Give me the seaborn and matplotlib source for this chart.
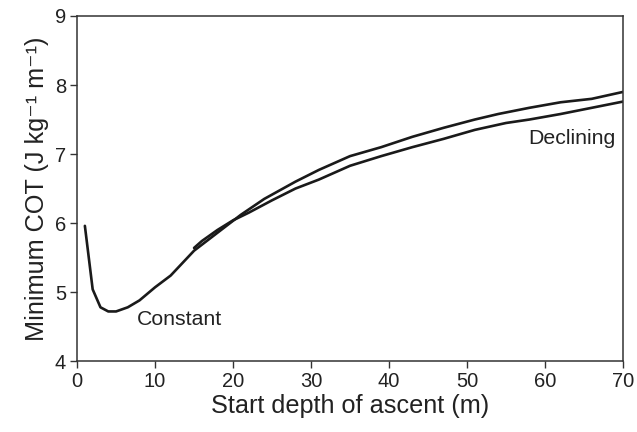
import numpy as np
import pandas as pd
import seaborn as sns
import matplotlib
matplotlib.use("Agg")
import matplotlib.pyplot as plt

# Data
const_x = [1, 2, 3, 4, 5, 6.5, 8, 10, 12, 15, 18, 21, 24, 28, 31, 35, 39, 43, 47, 51, 54, 58, 62, 66, 70]
const_y = [5.96, 5.04, 4.78, 4.72, 4.72, 4.78, 4.88, 5.07, 5.24, 5.60, 5.86, 6.12, 6.35, 6.60, 6.77,
           6.97, 7.10, 7.25, 7.38, 7.50, 7.58, 7.67, 7.75, 7.80, 7.90]
decl_x = [15, 16, 18, 20, 22, 25, 28, 31, 35, 39, 43, 47, 51, 55, 58, 62, 66, 70]
decl_y = [5.64, 5.74, 5.90, 6.04, 6.15, 6.33, 6.50, 6.63, 6.83, 6.97, 7.10, 7.22, 7.35, 7.45,
          7.50, 7.58, 7.67, 7.76]
series_names = ["Constant", "Declining"]
x_ticks = [0, 10, 20, 30, 40, 50, 60, 70]
y_ticks = [4, 5, 6, 7, 8, 9]

df = pd.concat([
    pd.DataFrame({"depth": const_x, "cot": const_y, "profile": series_names[0]}),
    pd.DataFrame({"depth": decl_x, "cot": decl_y, "profile": series_names[1]}),
])

sns.set_style("ticks")
plt.rcParams["font.family"] = ["Liberation Sans", "DejaVu Sans"]

fig = plt.figure(figsize=(6.37, 4.32), dpi=100)
ax = fig.add_axes([0.121, 0.164, 0.857, 0.799])

sns.lineplot(data=df, x="depth", y="cot", hue="profile", units="profile", estimator=None,
             palette=["#1a1a1a", "#1a1a1a"], linewidth=1.9, legend=False, ax=ax, sort=False)

ax.set_xlim(0, 70)
ax.set_ylim(4, 9)
ax.set_xticks(x_ticks)
ax.set_yticks(y_ticks)
ax.tick_params(axis="both", direction="out", length=5, width=1, color="#333333",
               labelsize=14.5, labelcolor="#222222", pad=3)
for s in ax.spines.values():
    s.set_visible(True)
    s.set_color("#333333")
    s.set_linewidth(1.1)

ax.set_xlabel("Start depth of ascent (m)", fontsize=18.2, color="#222222", labelpad=2)
ax.set_ylabel("Minimum COT (J kg\u207b\u00b9 m\u207b\u00b9)", fontsize=18.2, color="#222222", labelpad=4)

ax.text(7.7, 4.52, series_names[0], fontsize=15.3, color="#222222", va="baseline", ha="left")
ax.text(57.8, 7.14, series_names[1], fontsize=15.3, color="#222222", va="baseline", ha="left")

fig.savefig("out.png", dpi=100)
